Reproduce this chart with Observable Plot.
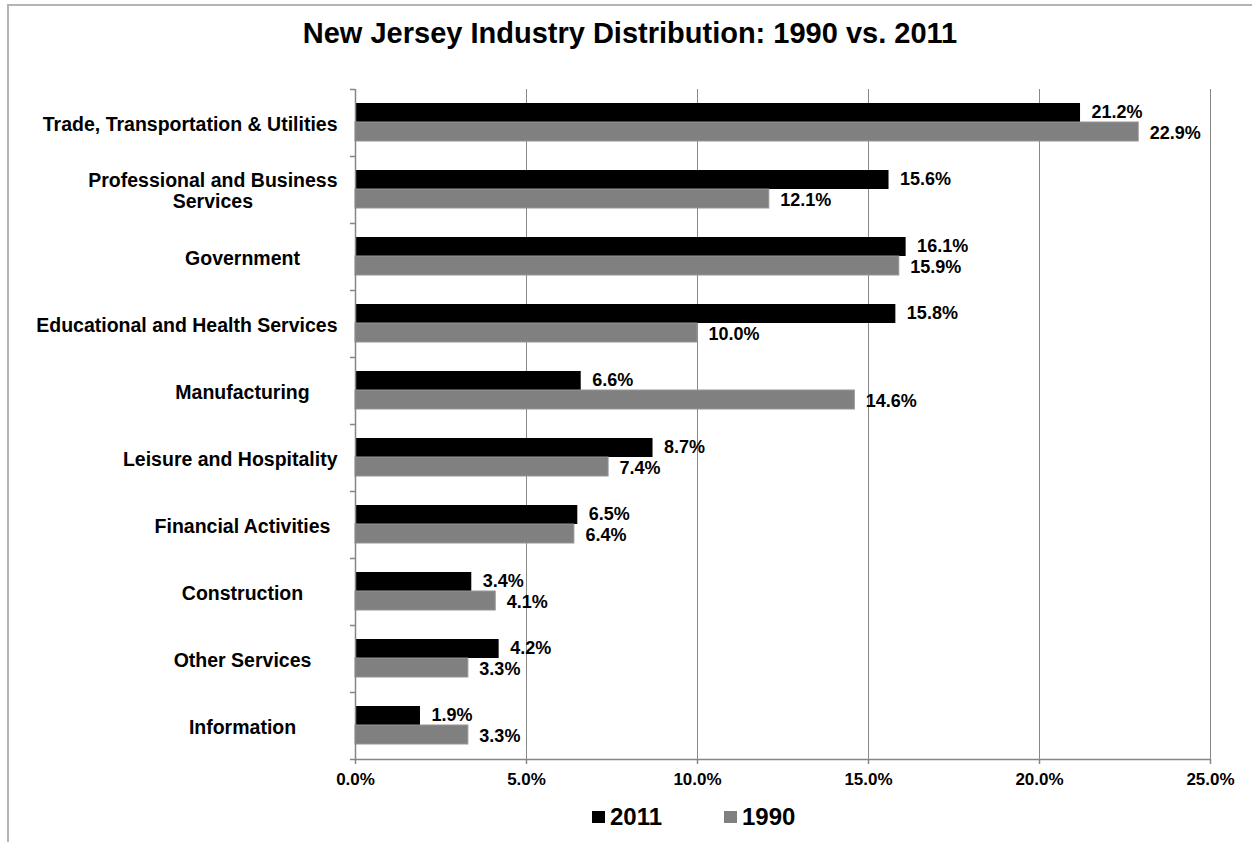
<!DOCTYPE html>
<html>
<head>
<meta charset="utf-8">
<script src="https://cdn.jsdelivr.net/npm/d3@7"></script>
<script src="https://cdn.jsdelivr.net/npm/@observablehq/plot@0.6"></script>
<style>
  html, body { margin: 0; padding: 0; background: #fff; }
  body { width: 1252px; height: 842px; position: relative; overflow: hidden;
         font-family: "Liberation Sans", Arial, sans-serif; font-weight: bold; color: #000; }
  #border { position: absolute; left: 7px; top: 4px; width: 1260px; height: 900px;
            border-top: 2px solid #b4b4b4; border-left: 2px solid #b4b4b4; }
  #title { position: absolute; left: 8px; width: 1244px; top: 19px; text-align: center;
           font-size: 29px; line-height: 29px; }
  #chart { position: absolute; left: 0; top: 60px; }
  .leg { position: absolute; top: 804px; font-size: 24px; line-height: 26px; display: flex; align-items: center; }
  .leg span.sw { display: inline-block; width: 13px; height: 12px; margin-right: 5px; }
</style>
</head>
<body>
<div id="border"></div>
<div id="title">New Jersey Industry Distribution: 1990 vs. 2011</div>
<div id="chart"></div>
<div class="leg" style="left:592px"><span class="sw" style="background:#000"></span>2011</div>
<div class="leg" style="left:724px"><span class="sw" style="background:#808080"></span>1990</div>
<script>
const categories = [
  "Trade, Transportation & Utilities",
  "Professional and Business Services",
  "Government",
  "Educational and Health Services",
  "Manufacturing",
  "Leisure and Hospitality",
  "Financial Activities",
  "Construction",
  "Other Services",
  "Information"
];
const v2011 = [21.2, 15.6, 16.1, 15.8, 6.6, 8.7, 6.5, 3.4, 4.2, 1.9];
const v1990 = [22.9, 12.1, 15.9, 10.0, 14.6, 7.4, 6.4, 4.1, 3.3, 3.3];
const xTicks = [0, 5, 10, 15, 20, 25];
const displayLabels = {"Professional and Business Services": "Professional and Business\nServices"};

const data = categories.map((c, i) => ({cat: c, v2011: v2011[i], v1990: v1990[i]}));
const fmt = v => v.toFixed(1) + "%";

const FONT = '"Liberation Sans", Arial, sans-serif';
const labelSize = 19.5;
const valueSize = 18;
const ctx = document.createElement("canvas").getContext("2d");
ctx.font = `bold ${labelSize}px ${FONT}`;
const W = 1252, ML = 355, MR = 42, MT = 29, MB = 41, H = 740;
const centerX = 242, rightLimit = 337;
function labelDx(c) {
  const txt = displayLabels[c] || c;
  const w = Math.max(...txt.split("\n").map(s => ctx.measureText(s).width));
  const cx = Math.min(centerX, rightLimit - w / 2);
  return cx - ML;
}

const axisColor = "#868686";
const band = (H - MT - MB) / categories.length;

const chart = Plot.plot({
  width: W, height: H,
  marginLeft: ML, marginRight: MR, marginTop: MT, marginBottom: MB,
  style: {fontFamily: FONT, fontWeight: "bold", background: "transparent", color: "#000"},
  x: {domain: [0, 25], axis: null},
  y: {domain: categories, padding: 0, axis: null},
  marks: [
    Plot.ruleX(xTicks.slice(1), {stroke: "#888", strokeWidth: 1}),
    Plot.barX(data, {x: "v2011", y: "cat", fill: "#000", insetTop: 14, insetBottom: 34}),
    Plot.barX(data, {x: "v1990", y: "cat", fill: "#808080", stroke: "#959595", strokeWidth: 1, insetTop: 33, insetBottom: 15}),
    Plot.ruleX([0], {stroke: axisColor, strokeWidth: 1.5}),
    Plot.ruleY(categories, {y: d => d, x1: 0, x2: 0, dy: -band / 2, insetLeft: -5, stroke: axisColor, strokeWidth: 1.5}),
    Plot.ruleY([categories[categories.length - 1]], {y: d => d, x1: 0, x2: 25, dy: band / 2, insetLeft: -5, stroke: axisColor, strokeWidth: 1.5}),
    Plot.axisX(xTicks, {anchor: "bottom", tickSize: 5, tickPadding: 8, tickFormat: fmt, stroke: axisColor, strokeWidth: 1.5, fontSize: 17, fontWeight: "bold", fill: "#000"}),
    Plot.text(data, {x: "v2011", y: "cat", text: d => fmt(d.v2011), dx: 11, dy: -10.5, textAnchor: "start", fontSize: valueSize, fontWeight: "bold", fill: "#000"}),
    Plot.text(data, {x: "v1990", y: "cat", text: d => fmt(d.v1990), dx: 11, dy: 10, textAnchor: "start", fontSize: valueSize, fontWeight: "bold", fill: "#000"}),
    ...categories.map(c => Plot.text([c], {
      y: d => d, text: d => displayLabels[d] || d, frameAnchor: "left",
      dx: labelDx(c), dy: 1, textAnchor: "middle", lineHeight: 1.08,
      fontSize: labelSize, fontWeight: "bold", fill: "#000"
    }))
  ]
});
document.getElementById("chart").appendChild(chart);
</script>
</body>
</html>
